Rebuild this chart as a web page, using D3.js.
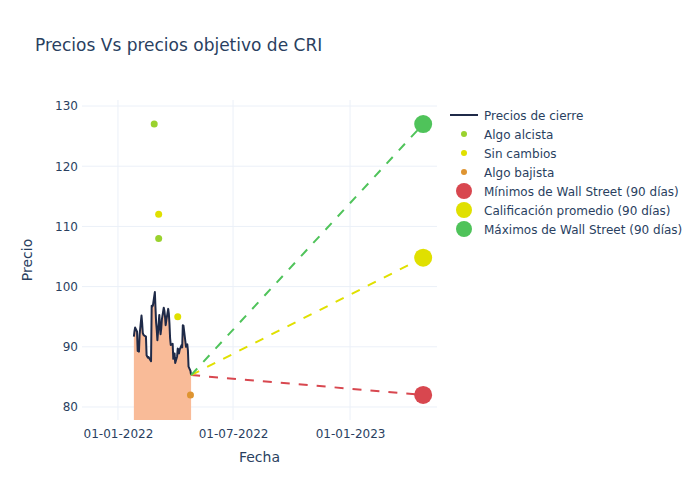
<!DOCTYPE html>
<html>
<head>
<meta charset="utf-8">
<script src="https://cdn.jsdelivr.net/npm/d3@7"></script>
<style>
  body { margin: 0; background: white; }
  text { font-family: "DejaVu Sans", sans-serif; fill: #2a3f5f; }
</style>
</head>
<body>
<div id="chart"></div>
<script>
var width = 700;
var height = 500;
var plotLeft = 82, plotRight = 437, plotTop = 100, plotBottom = 420;

// closing prices (trading days)
var closeDates = ["2022-01-26","2022-01-27","2022-01-28","2022-01-31","2022-02-01","2022-02-02","2022-02-03","2022-02-04",
    "2022-02-07","2022-02-08","2022-02-09","2022-02-10","2022-02-11","2022-02-14","2022-02-15","2022-02-16","2022-02-17",
    "2022-02-18","2022-02-22","2022-02-23","2022-02-24","2022-02-25","2022-02-28","2022-03-01","2022-03-02","2022-03-03",
    "2022-03-04","2022-03-07","2022-03-08","2022-03-09","2022-03-10","2022-03-11","2022-03-14","2022-03-15","2022-03-16",
    "2022-03-17","2022-03-18","2022-03-21","2022-03-22","2022-03-23","2022-03-24","2022-03-25","2022-03-28","2022-03-29",
    "2022-03-30","2022-03-31","2022-04-01","2022-04-04","2022-04-05","2022-04-06","2022-04-07","2022-04-08","2022-04-11",
    "2022-04-12","2022-04-13","2022-04-14","2022-04-18","2022-04-19","2022-04-20","2022-04-21","2022-04-22","2022-04-25",
    "2022-04-26"];
var closePrices = [91.7, 92.6, 93.2, 92.5, 89.3, 89.5, 89.2, 92.0,
    95.2, 94.0, 92.3, 92.0, 91.9, 91.7, 88.6, 88.4, 88.2,
    88.3, 87.6, 96.8, 96.7, 96.9, 99.1, 96.5, 94.0, 92.8,
    91.1, 95.3, 93.4, 92.1, 93.0, 94.5, 96.5, 96.0, 95.0,
    93.6, 94.4, 96.3, 95.5, 93.8, 91.4, 90.3, 90.5, 88.0,
    88.4, 88.9, 87.3, 88.4, 89.7, 89.6, 88.9, 89.5, 90.3,
    89.9, 93.6, 93.5, 90.0, 90.2, 90.4, 89.4, 86.7, 86.0,
    85.3];

// analyst opinions
var alcistaDates = ["2022-02-27", "2022-03-06"];
var alcistaValues = [127, 108];
var sinCambiosDates = ["2022-03-06", "2022-04-05"];
var sinCambiosValues = [112, 95];
var bajistaDates = ["2022-04-25"];
var bajistaValues = [82];

// 90 day targets
var targetDate = "2023-04-26";
var targetNames = ["Mínimos de Wall Street (90 días)", "Calificación promedio (90 días)", "Máximos de Wall Street (90 días)"];
var targetValues = [82, 104.8, 127];
var targetColors = ["#d8474f", "#e0e000", "#4fc35a"];

var yTicks = [80, 90, 100, 110, 120, 130];
var xTicks = ["2022-01-01", "2022-07-01", "2023-01-01"];

var parse = d3.utcParse("%Y-%m-%d");
var fmt = d3.utcFormat("%d-%m-%Y");

var xScale = d3.scaleUtc()
    .domain([Date.UTC(2021, 10, 5, 10), Date.UTC(2023, 4, 17, 18)])
    .range([plotLeft, plotRight]);
var yScale = d3.scaleLinear()
    .domain([77.84, 131.0])
    .range([plotBottom, plotTop]);

var svg = d3.select("#chart").append("svg")
    .attr("width", width)
    .attr("height", height);

svg.append("defs").append("clipPath").attr("id", "plotclip")
    .append("rect")
    .attr("x", plotLeft).attr("y", plotTop)
    .attr("width", plotRight - plotLeft).attr("height", plotBottom - plotTop);

// grid
svg.append("g").selectAll("line")
    .data(yTicks).enter().append("line")
    .attr("x1", plotLeft).attr("x2", plotRight)
    .attr("y1", function(d) { return yScale(d); })
    .attr("y2", function(d) { return yScale(d); })
    .style("stroke", "#ebf0f8").style("stroke-width", 1);
svg.append("g").selectAll("line")
    .data(xTicks).enter().append("line")
    .attr("y1", plotTop).attr("y2", plotBottom)
    .attr("x1", function(d) { return xScale(parse(d)); })
    .attr("x2", function(d) { return xScale(parse(d)); })
    .style("stroke", "#ebf0f8").style("stroke-width", 1);

// axes
var yAxis = d3.axisLeft(yScale).tickValues(yTicks).tickSize(0).tickPadding(4);
var yg = svg.append("g").attr("transform", "translate(" + plotLeft + ",0)").call(yAxis);
var xAxis = d3.axisBottom(xScale).tickValues(xTicks.map(parse)).tickFormat(fmt).tickSize(0).tickPadding(9);
var xg = svg.append("g").attr("transform", "translate(0," + plotBottom + ")").call(xAxis);
[yg, xg].forEach(function(g) {
    g.select(".domain").remove();
    g.selectAll("text").style("font-size", "12px").style("font-family", "DejaVu Sans, sans-serif").attr("fill", "#2a3f5f");
});

var plot = svg.append("g").attr("clip-path", "url(#plotclip)");

var closeData = closeDates.map(function(d, i) { return {date: parse(d), value: closePrices[i]}; });

// area under closing prices
var area = d3.area()
    .x(function(d) { return xScale(d.date); })
    .y0(yScale(0))
    .y1(function(d) { return yScale(d.value); });
plot.append("path")
    .datum(closeData)
    .attr("d", area)
    .style("fill", "#f9bb98")
    .style("stroke", "none");

var line = d3.line()
    .x(function(d) { return xScale(d.date); })
    .y(function(d) { return yScale(d.value); });
plot.append("path")
    .datum(closeData)
    .attr("d", line)
    .style("fill", "none")
    .style("stroke", "#1f2a48")
    .style("stroke-width", 2)
    .style("stroke-linejoin", "round");

// opinion markers
var opinionSets = [
    {dates: alcistaDates, values: alcistaValues, color: "#9ad22e"},
    {dates: sinCambiosDates, values: sinCambiosValues, color: "#e0e000"},
    {dates: bajistaDates, values: bajistaValues, color: "#de9431"}
];
opinionSets.forEach(function(s) {
    plot.append("g").selectAll("circle")
        .data(s.dates).enter().append("circle")
        .attr("cx", function(d) { return xScale(parse(d)); })
        .attr("cy", function(d, i) { return yScale(s.values[i]); })
        .attr("r", 3.5)
        .style("fill", s.color);
});

// dashed target lines + target markers
var last = closeData[closeData.length - 1];
targetValues.forEach(function(v, i) {
    plot.append("line")
        .attr("x1", xScale(last.date)).attr("y1", yScale(last.value))
        .attr("x2", xScale(parse(targetDate))).attr("y2", yScale(v))
        .style("stroke", targetColors[i])
        .style("stroke-width", 2)
        .style("stroke-dasharray", "9,9");
});
targetValues.forEach(function(v, i) {
    plot.append("circle")
        .attr("cx", xScale(parse(targetDate)))
        .attr("cy", yScale(v))
        .attr("r", 9)
        .style("fill", targetColors[i]);
});

// titles
svg.append("text")
    .attr("x", 35).attr("y", 51)
    .style("font-size", "17px")
    .text("Precios Vs precios objetivo de CRI");
svg.append("text")
    .attr("x", (plotLeft + plotRight) / 2).attr("y", 462)
    .style("text-anchor", "middle")
    .style("font-size", "14px")
    .text("Fecha");
svg.append("text")
    .attr("transform", "translate(32," + ((plotTop + plotBottom) / 2) + ") rotate(-90)")
    .style("text-anchor", "middle")
    .style("font-size", "14px")
    .text("Precio");

// legend
var legendItems = [
    {name: "Precios de cierre", type: "line", color: "#1f2a48"},
    {name: "Algo alcista", type: "dot", color: "#9ad22e"},
    {name: "Sin cambios", type: "dot", color: "#e0e000"},
    {name: "Algo bajista", type: "dot", color: "#de9431"}
];
targetNames.forEach(function(n, i) { legendItems.push({name: n, type: "big", color: targetColors[i]}); });

var legend = svg.append("g").attr("transform", "translate(450,115)");
var rows = legend.selectAll("g").data(legendItems).enter().append("g")
    .attr("transform", function(d, i) { return "translate(0," + (i * 19) + ")"; });
rows.each(function(d) {
    var r = d3.select(this);
    if (d.type == "line") {
        r.append("line").attr("x1", 0).attr("x2", 28).attr("y1", 0).attr("y2", 0)
            .style("stroke", d.color).style("stroke-width", 2);
    } else {
        r.append("circle").attr("cx", 14).attr("cy", 0)
            .attr("r", d.type == "big" ? 8 : 3)
            .style("fill", d.color);
    }
    r.append("text").attr("x", 34).attr("y", 4.5)
        .style("font-size", "12px")
        .text(d.name);
});
</script>
</body>
</html>
